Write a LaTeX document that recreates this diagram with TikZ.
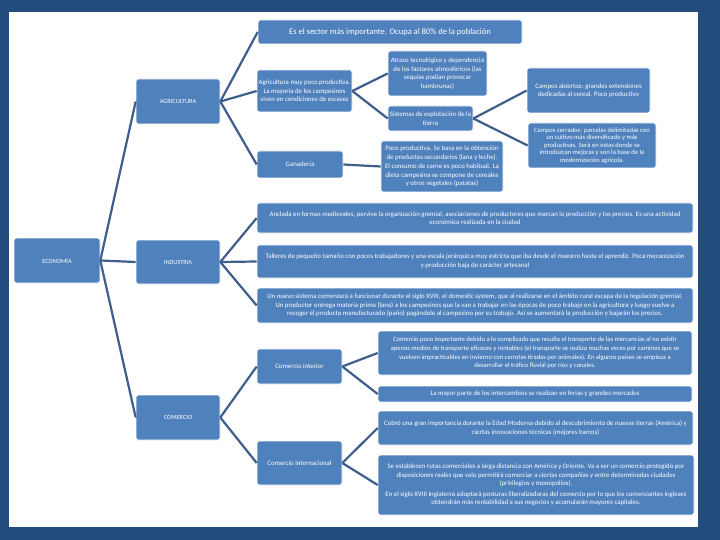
\documentclass[tikz,border=0pt]{standalone}
\usepackage{fontspec}
\setmainfont{Carlito}
\definecolor{frameblue}{HTML}{234B7D}
\definecolor{boxblue}{HTML}{4F81BD}
\definecolor{lineblue}{HTML}{3F5E8C}
\tikzset{
  box/.style={draw=white, line width=0.6pt, fill=boxblue, rounded corners=2.5pt,
    text=white, align=flush center, inner xsep=1pt, inner ysep=1pt,
    font=\fontsize{6.8}{8.6}\selectfont},
  capsbox/.style={font=\fontsize{6.3}{7.5}\selectfont},
  conn/.style={draw=lineblue, line width=2.2pt}
}
\begin{document}
\begin{tikzpicture}[x=1pt,y=-1pt]
\fill[frameblue] (0,0) rectangle (720,540);
\fill[white] (9,12) rectangle (698,527);
\useasboundingbox (0,0) rectangle (720,540);

% level 1
\node[box, capsbox, text width=84pt, minimum height=45pt] (econ) at (57,260.5) {ECONOMÍA};
% level 2
\node[box, capsbox, text width=82pt, minimum height=45pt] (agri) at (178,101.5) {AGRICULTURA};
\node[box, capsbox, text width=82pt, minimum height=44pt] (ind) at (178,262) {INDUSTRIA};
\node[box, capsbox, text width=82pt, minimum height=45pt] (com) at (178,417.5) {COMERCIO};
% agricultura
\node[box, text width=262pt, minimum height=24pt, font=\fontsize{8.5}{10}\selectfont] (top) at (390,32) {Es el sector más importante. Ocupa al 80\% de la población};
\node[box, text width=93pt, minimum height=42pt] (agrimuy) at (304.5,91) {Agricultura muy poco productiva.\\ La mayoría de los campesinos\\ viven en condiciones de escasez};
\node[box, text width=97pt, minimum height=45pt] (atraso) at (437.5,73.5) {Atraso tecnológico y dependencia\\ de los factores atmosféricos (las\\ sequías podían provocar\\ hambrunas)};
\node[box, text width=83pt, minimum height=25pt] (sist) at (430.5,118.5) {Sistemas de explotación de la\\ tierra};
\node[box, text width=121pt, minimum height=45pt] (abiertos) at (588.5,90.5) {Campos abiertos: grandes extensiones\\ dedicadas al cereal. Poco productivo};
\node[box, text width=126pt, minimum height=45pt, font=\fontsize{6.6}{7.5}\selectfont] (cerrados) at (592,145.5) {Campos cerrados: parcelas delimitadas con\\ un cultivo más diversificado y más\\ productivas. Será en estas donde se\\ introduzcan mejoras y son la base de la\\ modernización agrícola.};
\node[box, text width=84pt, minimum height=27pt] (ganad) at (300,164.5) {Ganadería};
\node[box, text width=120pt, minimum height=51pt, font=\fontsize{6.8}{8.8}\selectfont] (pocoprod) at (442,166.5) {Poco productiva. Se basa en la obtención\\ de productos secundarios (lana y leche).\\ El consumo de carne es poco habitual. La\\ dieta campesina se compone de cereales\\ y otros vegetales (patatas)};
% industria
\node[box, text width=434pt, minimum height=30pt] (anclada) at (475,218) {Anclada en formas medievales, pervive la organización gremial, asociaciones de productores que marcan la producción y los precios. Es una actividad\\ económica realizada en la ciudad};
\node[box, text width=434pt, minimum height=33pt] (talleres) at (475,261.5) {Talleres de pequeño tamaño con pocos trabajadores y una escala jerárquica muy estricta que iba desde el maestro hasta el aprendiz. Poca mecanización\\ y producción baja de carácter artesanal};
\node[box, text width=434pt, minimum height=35pt] (nuevo) at (475,305.5) {Un nuevo sistema comenzará a funcionar durante el siglo XVIII, el domestic system, que al realizarse en el ámbito rural escapa de la regulación gremial.\\ Un productor entrega materia prima (lana) a los campesinos que la van a trabajar en las épocas de poco trabajo en la agricultura y luego vuelve a\\ recoger el producto manufacturado (paño) pagándole al campesino por su trabajo. Así se aumentará la producción y bajarán los precios.};
% comercio
\node[box, text width=83pt, minimum height=35pt] (cint) at (299.5,366.5) {Comercio interior};
\node[box, text width=83pt, minimum height=44pt] (cext) at (299.5,463) {Comercio internacional};
\node[box, text width=312pt, minimum height=44pt, font=\fontsize{6.6}{8.6}\selectfont] (poco) at (535,353) {Comercio poco importante debido a lo complicado que resulta el transporte de las mercancías al no existir\\ apenas medios de transporte eficaces y rentables (el transporte se realiza muchas veces por caminos que se\\ vuelven impracticables en invierno con carretas tiradas por animales). En algunos países se empieza a\\ desarrollar el tráfico fluvial por ríos y canales.};
\node[box, text width=312pt, minimum height=16pt] (mayor) at (535,394) {La mayor parte de los intercambios se realizan en ferias y grandes mercados};
\node[box, text width=313pt, minimum height=34pt] (cobro) at (535.5,428) {Cobró una gran importancia durante la Edad Moderna debido al descubrimiento de nuevas tierras (América) y\\ ciertas innovaciones técnicas (mejores barcos)};
\node[box, text width=314pt, minimum height=60pt] (rutas) at (536,485) {Se establecen rutas comerciales a larga distancia con América y Oriente. Va a ser un comercio protegido por\\ disposiciones reales que solo permitirá comerciar a ciertas compañías y entre determinadas ciudades\\ (privilegios y monopolios).\\[2pt] En el siglo XVIII Inglaterra adoptará posturas liberalizadoras del comercio por lo que los comerciantes ingleses\\ obtendrán más rentabilidad a sus negocios y acumularán mayores capitales.};

% connectors
\draw[conn] (econ.east) -- (agri.west);
\draw[conn] (econ.east) -- (ind.west);
\draw[conn] (econ.east) -- (com.west);
\draw[conn] (agri.east) -- (top.west);
\draw[conn] (agri.east) -- (agrimuy.west);
\draw[conn] (agri.east) -- (ganad.west);
\draw[conn] (agrimuy.east) -- (atraso.west);
\draw[conn] (agrimuy.east) -- (sist.west);
\draw[conn] (sist.east) -- (abiertos.west);
\draw[conn] (sist.east) -- (cerrados.west);
\draw[conn] (ganad.east) -- (pocoprod.west);
\draw[conn] (ind.east) -- (anclada.west);
\draw[conn] (ind.east) -- (talleres.west);
\draw[conn] (ind.east) -- (nuevo.west);
\draw[conn] (com.east) -- (cint.west);
\draw[conn] (com.east) -- (cext.west);
\draw[conn] (cint.east) -- (poco.west);
\draw[conn] (cint.east) -- (mayor.west);
\draw[conn] (cext.east) -- (cobro.west);
\draw[conn] (cext.east) -- (rutas.west);
\end{tikzpicture}
\end{document}
